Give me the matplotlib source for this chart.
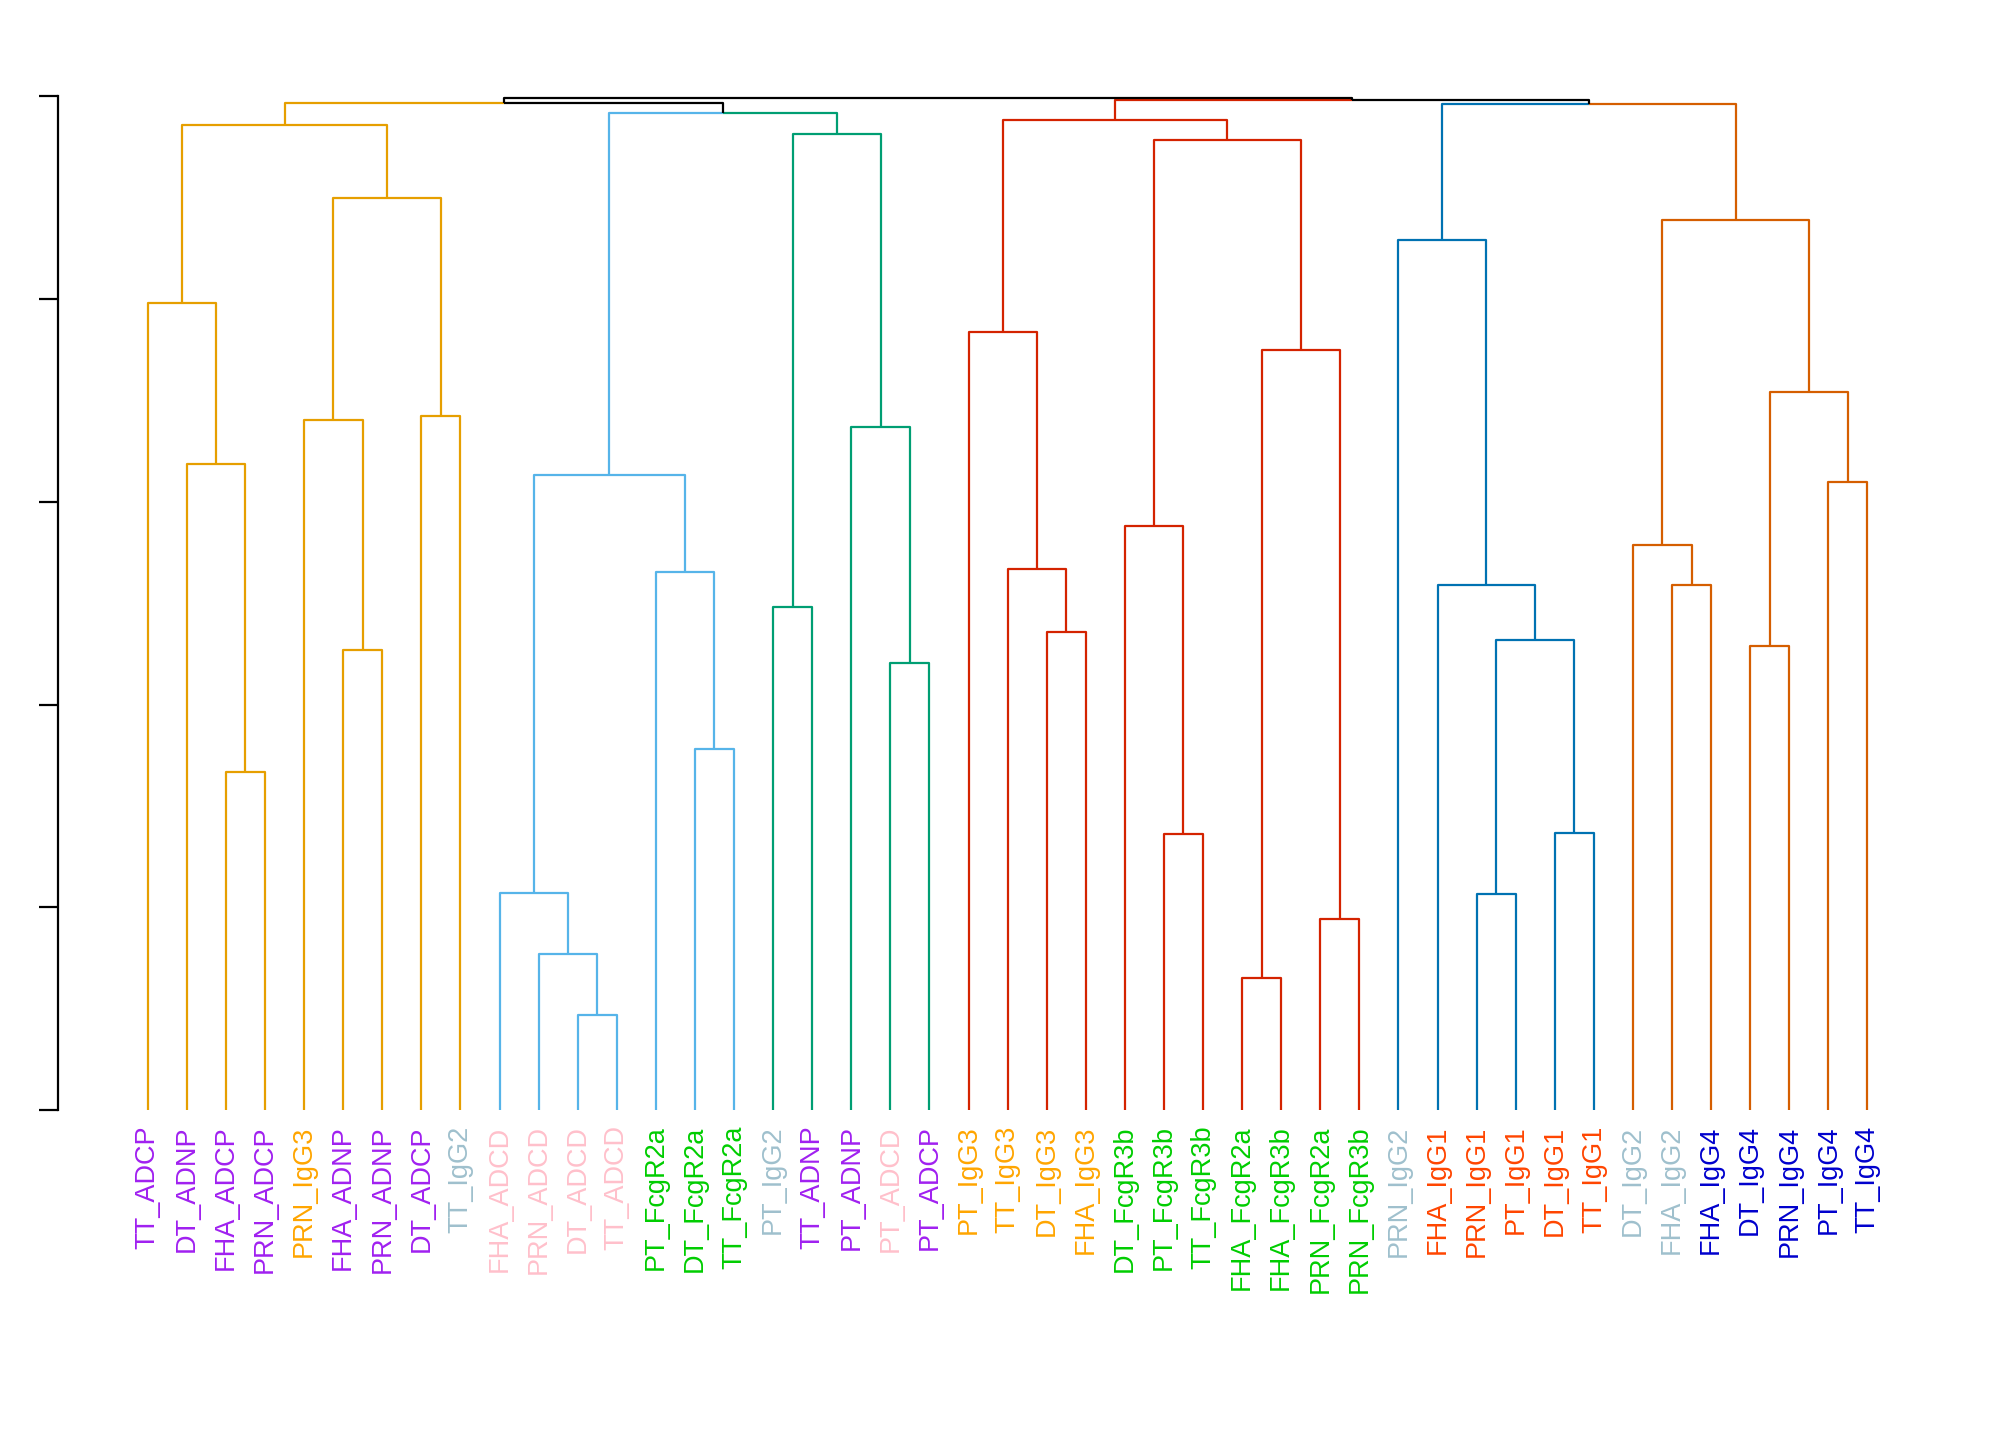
import matplotlib
matplotlib.use("Agg")
import matplotlib.pyplot as plt

plt.rcParams['font.family'] = ['Liberation Sans', 'DejaVu Sans']

# leaf order, as drawn left to right
leaves = ["TT_ADCP", "DT_ADNP", "FHA_ADCP", "PRN_ADCP", "PRN_IgG3", "FHA_ADNP", "PRN_ADNP",
          "DT_ADCP", "TT_IgG2", "FHA_ADCD", "PRN_ADCD", "DT_ADCD", "TT_ADCD", "PT_FcgR2a",
          "DT_FcgR2a", "TT_FcgR2a", "PT_IgG2", "TT_ADNP", "PT_ADNP", "PT_ADCD", "PT_ADCP",
          "PT_IgG3", "TT_IgG3", "DT_IgG3", "FHA_IgG3", "DT_FcgR3b", "PT_FcgR3b", "TT_FcgR3b",
          "FHA_FcgR2a", "FHA_FcgR3b", "PRN_FcgR2a", "PRN_FcgR3b", "PRN_IgG2", "FHA_IgG1",
          "PRN_IgG1", "PT_IgG1", "DT_IgG1", "TT_IgG1", "DT_IgG2", "FHA_IgG2", "FHA_IgG4",
          "DT_IgG4", "PRN_IgG4", "PT_IgG4", "TT_IgG4"]

# label colour by feature type
label_colors = {"ADCP": "#A020F0", "ADNP": "#A020F0", "ADCD": "#FFC0CB", "IgG1": "#FF4500",
                "IgG2": "#9FC0CD", "IgG3": "#FFA500", "IgG4": "#0000CD",
                "FcgR2a": "#00CD00", "FcgR3b": "#00CD00"}

# merges: (node, left, right, height)
merges = [
    ("o1", "FHA_ADCP", "PRN_ADCP", 1.667), ("o2", "DT_ADNP", "o1", 3.188),
    ("o3", "TT_ADCP", "o2", 3.98), ("o4", "FHA_ADNP", "PRN_ADNP", 2.269),
    ("o5", "PRN_IgG3", "o4", 3.403), ("o6", "DT_ADCP", "TT_IgG2", 3.422),
    ("o7", "o5", "o6", 4.499), ("o8", "o3", "o7", 4.861),
    ("b1", "DT_ADCD", "TT_ADCD", 0.469), ("b2", "PRN_ADCD", "b1", 0.773),
    ("b3", "FHA_ADCD", "b2", 1.071), ("b4", "DT_FcgR2a", "TT_FcgR2a", 1.781),
    ("b5", "PT_FcgR2a", "b4", 2.655), ("b6", "b3", "b5", 3.131),
    ("g1", "PT_IgG2", "TT_ADNP", 2.484), ("g2", "PT_ADCD", "PT_ADCP", 2.205),
    ("g3", "PT_ADNP", "g2", 3.371), ("g4", "g1", "g3", 4.816),
    ("k1", "b6", "g4", 4.918), ("k2", "o8", "k1", 4.968),
    ("r1", "DT_IgG3", "FHA_IgG3", 2.357), ("r2", "TT_IgG3", "r1", 2.668),
    ("r3", "PT_IgG3", "r2", 3.84), ("r4", "PT_FcgR3b", "TT_FcgR3b", 1.362),
    ("r5", "DT_FcgR3b", "r4", 2.883), ("r6", "FHA_FcgR2a", "FHA_FcgR3b", 0.653),
    ("r7", "PRN_FcgR2a", "PRN_FcgR3b", 0.944), ("r8", "r6", "r7", 3.752),
    ("r9", "r5", "r8", 4.785), ("r10", "r3", "r9", 4.886),
    ("u1", "PRN_IgG1", "PT_IgG1", 1.065), ("u2", "DT_IgG1", "TT_IgG1", 1.369),
    ("u3", "u1", "u2", 2.319), ("u4", "FHA_IgG1", "u3", 2.592),
    ("u5", "PRN_IgG2", "u4", 4.29),
    ("v1", "FHA_IgG2", "FHA_IgG4", 2.592), ("v2", "DT_IgG2", "v1", 2.788),
    ("v3", "DT_IgG4", "PRN_IgG4", 2.288), ("v4", "PT_IgG4", "TT_IgG4", 3.099),
    ("v5", "v3", "v4", 3.542), ("v6", "v2", "v5", 4.392),
    ("k3", "u5", "v6", 4.962), ("k4", "r10", "k3", 4.981),
    ("root", "k2", "k4", 4.994),
]

# cluster roots and branch colours
clusters = {"o8": "#E69F00", "b6": "#56B4E9", "g4": "#009E73", "r10": "#D42300",
            "u5": "#0072B2", "v6": "#D55E00"}

xpos = {name: i + 1 for i, name in enumerate(leaves)}
ypos = {name: 0.0 for name in leaves}
children = {}
for node, a, b, h in merges:
    xpos[node] = (xpos[a] + xpos[b]) / 2
    ypos[node] = h
    children[node] = (a, b)

color = {}


def paint(node, c):
    color[node] = c
    if node in children:
        for ch in children[node]:
            paint(ch, clusters.get(ch, c))


paint("root", "black")

fig = plt.figure(figsize=(20.16, 14.4), dpi=100)
ax = fig.add_axes([0, 0.229, 1, 0.704])
for node, a, b, h in merges:
    for ch in (a, b):
        c = color[ch]
        ax.plot([xpos[node], xpos[ch], xpos[ch]], [h, h, ypos[ch]],
                color=c, lw=1.6, solid_capstyle="butt", clip_on=False)

for name in leaves:
    ax.text(xpos[name], -0.075, name, rotation=90, ha="center", va="top",
            fontsize=19.5, color=label_colors[name.split("_")[1]])

ax.set_xlim(-2.78, 48.8)
ax.set_ylim(0, 5)
ax.set_xticks([])
ax.set_yticks(range(6))
ax.set_yticklabels([])
ax.tick_params(axis="y", length=14, width=1.6, direction="out")
for s in ("top", "right", "bottom"):
    ax.spines[s].set_visible(False)
ax.spines["left"].set_position(("data", -1.3))
ax.spines["left"].set_bounds(0, 5)
ax.spines["left"].set_linewidth(1.6)
ax.patch.set_visible(False)

fig.savefig("out.png", dpi=100)
